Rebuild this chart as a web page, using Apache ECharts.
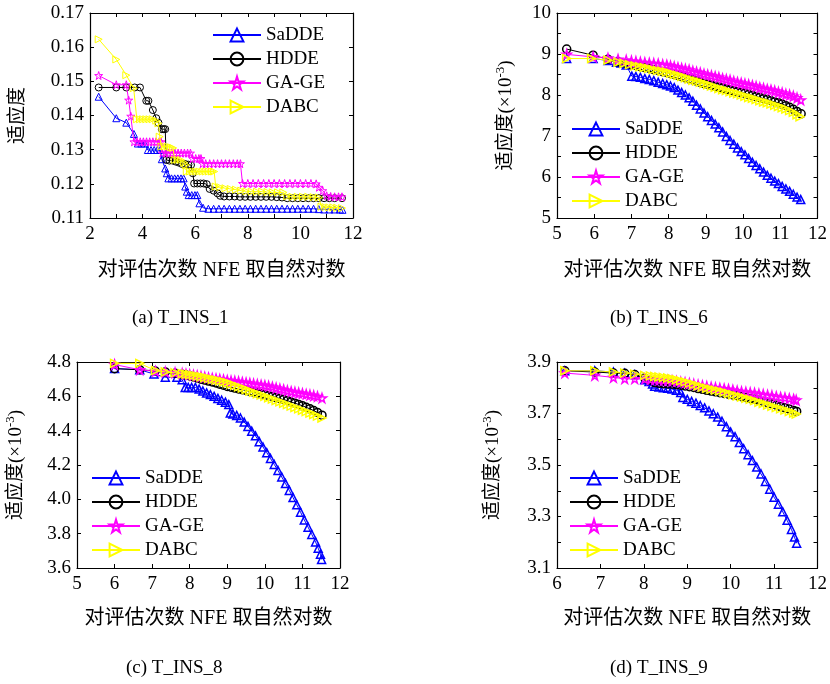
<!DOCTYPE html>
<html>
<head>
<meta charset="utf-8">
<script src="https://cdn.jsdelivr.net/npm/echarts@6/dist/echarts.min.js"></script>
<style>
  html, body { margin: 0; padding: 0; background: #fff; }
  #main { width: 830px; height: 684px; }
</style>
</head>
<body>
<div id="main"></div>
<script>
// series names (legend order)
const names = ['SaDDE', 'HDDE', 'GA-GE', 'DABC'];
const colors = ['#0000ff', '#000000', '#ff00ff', '#ffff00'];

// (a) T_INS_1 : [ln NFE, fitness]
const a_SaDDE = [[2.33,0.1455],[3.0,0.1392],[3.38,0.1379],[3.67,0.1346],[3.82,0.1318],[3.95,0.1318],[4.08,0.1318],[4.2,0.1299],[4.32,0.1299],[4.44,0.1299],[4.56,0.1299],[4.67,0.1299],[4.73,0.1272],[4.86,0.1245],[4.92,0.1231],[4.98,0.1216],[5.1,0.1216],[5.22,0.1216],[5.34,0.1216],[5.46,0.1216],[5.56,0.1216],[5.62,0.1192],[5.68,0.1177],[5.75,0.1167],[5.87,0.1167],[5.99,0.1167],[6.08,0.1167],[6.16,0.1143],[6.3,0.1130],[6.5,0.1127],[6.7,0.1127],[6.9,0.1127],[7.1,0.1127],[7.3,0.1127],[7.5,0.1127],[7.7,0.1127],[7.9,0.1127],[8.1,0.1127],[8.3,0.1127],[8.5,0.1127],[8.7,0.1127],[8.9,0.1127],[9.1,0.1127],[9.3,0.1127],[9.5,0.1127],[9.7,0.1127],[9.9,0.1127],[10.1,0.1127],[10.3,0.1127],[10.5,0.1127],[10.7,0.1126],[10.9,0.1125],[11.1,0.1125],[11.3,0.1125],[11.5,0.1125],[11.6,0.1124]];
const a_HDDE = [[2.33,0.1482],[3.0,0.1482],[3.38,0.1482],[3.7,0.1482],[3.9,0.1482],[4.14,0.1443],[4.22,0.1443],[4.39,0.1416],[4.52,0.1392],[4.6,0.1379],[4.73,0.136],[4.8,0.136],[4.86,0.136],[4.9,0.127],[5.02,0.1268],[5.14,0.1268],[5.26,0.1265],[5.38,0.1262],[5.5,0.1258],[5.62,0.1258],[5.74,0.1256],[5.84,0.1255],[5.91,0.1231],[5.96,0.1201],[6.08,0.1201],[6.2,0.1201],[6.32,0.1201],[6.44,0.1199],[6.55,0.1185],[6.7,0.118],[6.85,0.1172],[6.95,0.1165],[7.1,0.1163],[7.3,0.1163],[7.5,0.1163],[7.7,0.1162],[7.9,0.1162],[8.1,0.1162],[8.3,0.1162],[8.5,0.1162],[8.7,0.1162],[8.9,0.1162],[9.1,0.1161],[9.3,0.1160],[9.5,0.1158],[9.7,0.1158],[9.9,0.1158],[10.1,0.1158],[10.3,0.1158],[10.5,0.1158],[10.7,0.1158],[10.9,0.1158],[11.1,0.1158],[11.3,0.1158],[11.58,0.1158]];
const a_GAGE = [[2.33,0.1517],[3.0,0.149],[3.38,0.149],[3.47,0.1445],[3.55,0.1398],[3.67,0.1323],[3.79,0.1323],[3.91,0.1323],[4.03,0.1323],[4.15,0.1323],[4.27,0.1323],[4.39,0.1323],[4.51,0.1323],[4.63,0.1323],[4.7,0.1323],[4.75,0.129],[4.87,0.129],[4.99,0.129],[5.11,0.129],[5.23,0.129],[5.35,0.129],[5.47,0.129],[5.59,0.129],[5.71,0.129],[5.82,0.129],[5.9,0.1274],[6.02,0.1274],[6.14,0.1274],[6.22,0.1274],[6.28,0.1259],[6.4,0.1259],[6.55,0.1259],[6.7,0.1259],[6.85,0.1259],[7.0,0.1259],[7.15,0.1259],[7.3,0.1259],[7.45,0.1259],[7.6,0.1259],[7.72,0.1259],[7.8,0.1201],[8.0,0.1201],[8.2,0.1201],[8.4,0.1201],[8.6,0.1201],[8.8,0.1201],[9.0,0.1201],[9.2,0.1201],[9.4,0.1201],[9.6,0.1201],[9.8,0.1201],[10.0,0.1201],[10.2,0.1201],[10.4,0.1201],[10.6,0.1200],[10.7,0.119],[10.85,0.118],[11.0,0.1165],[11.15,0.1163],[11.3,0.1162],[11.45,0.1162],[11.58,0.1162]];
const a_DABC = [[2.33,0.1623],[3.0,0.1564],[3.38,0.1518],[3.66,0.148],[3.78,0.1389],[3.9,0.1389],[4.02,0.1389],[4.14,0.1389],[4.26,0.1389],[4.38,0.1389],[4.52,0.1385],[4.6,0.1377],[4.65,0.1338],[4.72,0.1309],[4.84,0.1309],[4.96,0.1309],[5.08,0.1307],[5.16,0.1305],[5.22,0.127],[5.34,0.127],[5.46,0.127],[5.58,0.1262],[5.64,0.1255],[5.68,0.1236],[5.8,0.1236],[5.92,0.1236],[6.04,0.1236],[6.16,0.1236],[6.28,0.1236],[6.4,0.1236],[6.52,0.1236],[6.64,0.1236],[6.72,0.1236],[6.78,0.1192],[6.95,0.119],[7.15,0.1187],[7.35,0.1185],[7.55,0.1183],[7.75,0.118],[7.95,0.1178],[8.15,0.1177],[8.35,0.1177],[8.55,0.1177],[8.75,0.1176],[8.95,0.1175],[9.15,0.1175],[9.35,0.1175],[9.5,0.1163],[9.7,0.1162],[9.9,0.1162],[10.1,0.1162],[10.3,0.1162],[10.5,0.1161],[10.7,0.116],[10.8,0.1133],[10.95,0.1132],[11.1,0.1131],[11.25,0.1131],[11.4,0.113],[11.58,0.1129]];

// (b) T_INS_6 : fitness x 1e-3
const b_SaDDE = [[5.26,8.89],[5.97,8.89],[6.37,8.84],[6.6,8.8],[6.72,8.78],[6.86,8.73],[7.01,8.46],[7.12,8.45],[7.24,8.43],[7.36,8.4],[7.48,8.38],[7.6,8.35],[7.72,8.31],[7.84,8.28],[7.95,8.25],[8.05,8.22],[8.15,8.18],[8.25,8.12],[8.35,8.06],[8.45,8.0],[8.55,7.93],[8.65,7.85],[8.75,7.75],[8.85,7.66],[8.95,7.56],[9.05,7.47],[9.15,7.38],[9.25,7.29],[9.35,7.2],[9.45,7.1],[9.55,6.99],[9.65,6.89],[9.75,6.8],[9.85,6.71],[9.95,6.62],[10.05,6.54],[10.15,6.45],[10.25,6.36],[10.35,6.28],[10.45,6.2],[10.55,6.12],[10.65,6.04],[10.75,5.97],[10.85,5.9],[10.95,5.84],[11.05,5.77],[11.15,5.71],[11.25,5.65],[11.35,5.58],[11.45,5.51],[11.55,5.45]];
const b_HDDE = [[5.26,9.12],[5.97,8.97],[6.37,8.87],[6.64,8.81],[6.85,8.77],[7.0,8.74],[7.12,8.72],[7.24,8.69],[7.36,8.67],[7.48,8.65],[7.6,8.62],[7.72,8.6],[7.84,8.57],[7.95,8.55],[8.05,8.53],[8.15,8.5],[8.25,8.48],[8.35,8.45],[8.45,8.42],[8.55,8.39],[8.65,8.37],[8.75,8.34],[8.85,8.31],[8.95,8.28],[9.05,8.26],[9.15,8.24],[9.25,8.21],[9.35,8.19],[9.45,8.17],[9.55,8.14],[9.65,8.12],[9.75,8.1],[9.85,8.08],[9.95,8.06],[10.05,8.04],[10.15,8.01],[10.25,7.99],[10.35,7.96],[10.45,7.94],[10.55,7.91],[10.65,7.89],[10.75,7.86],[10.85,7.83],[10.95,7.81],[11.05,7.78],[11.15,7.74],[11.25,7.7],[11.35,7.65],[11.45,7.6],[11.56,7.54]];
const b_GAGE = [[5.26,8.99],[5.97,8.93],[6.37,8.9],[6.64,8.87],[6.86,8.85],[7.0,8.83],[7.12,8.82],[7.24,8.8],[7.36,8.79],[7.48,8.78],[7.6,8.77],[7.72,8.76],[7.84,8.74],[7.95,8.73],[8.05,8.71],[8.15,8.69],[8.25,8.67],[8.35,8.65],[8.45,8.63],[8.55,8.61],[8.65,8.58],[8.75,8.56],[8.85,8.54],[8.95,8.51],[9.05,8.49],[9.15,8.47],[9.25,8.45],[9.35,8.43],[9.45,8.4],[9.55,8.38],[9.65,8.36],[9.75,8.33],[9.85,8.31],[9.95,8.29],[10.05,8.27],[10.15,8.25],[10.25,8.23],[10.35,8.21],[10.45,8.18],[10.55,8.16],[10.65,8.14],[10.75,8.12],[10.85,8.1],[10.95,8.07],[11.05,8.05],[11.15,8.02],[11.25,8.0],[11.35,7.97],[11.45,7.93],[11.55,7.88]];
const b_DABC = [[5.26,8.89],[5.93,8.89],[6.37,8.85],[6.64,8.8],[6.8,8.77],[6.95,8.74],[7.1,8.71],[7.22,8.69],[7.34,8.67],[7.46,8.65],[7.58,8.62],[7.7,8.6],[7.82,8.58],[7.94,8.56],[8.05,8.53],[8.15,8.5],[8.25,8.48],[8.35,8.45],[8.45,8.42],[8.55,8.39],[8.65,8.36],[8.75,8.34],[8.85,8.31],[8.95,8.28],[9.05,8.25],[9.15,8.22],[9.25,8.19],[9.35,8.16],[9.45,8.13],[9.55,8.11],[9.65,8.08],[9.75,8.05],[9.85,8.03],[9.95,8.0],[10.05,7.97],[10.15,7.94],[10.25,7.92],[10.35,7.89],[10.45,7.86],[10.55,7.83],[10.65,7.81],[10.75,7.78],[10.85,7.75],[10.95,7.72],[11.05,7.69],[11.15,7.66],[11.25,7.62],[11.35,7.58],[11.45,7.52],[11.53,7.47]];

// (c) T_INS_8 : fitness x 1e-3
const c_SaDDE = [[6.0,4.762],[6.67,4.755],[7.05,4.73],[7.35,4.711],[7.66,4.711],[7.8,4.697],[7.88,4.652],[7.96,4.652],[8.05,4.652],[8.15,4.652],[8.25,4.642],[8.35,4.631],[8.45,4.62],[8.55,4.61],[8.65,4.6],[8.75,4.588],[8.85,4.577],[8.95,4.566],[9.04,4.552],[9.08,4.503],[9.15,4.497],[9.25,4.489],[9.35,4.474],[9.45,4.45],[9.55,4.425],[9.65,4.397],[9.75,4.37],[9.85,4.336],[9.95,4.305],[10.05,4.272],[10.15,4.238],[10.25,4.203],[10.35,4.168],[10.45,4.13],[10.55,4.092],[10.65,4.052],[10.75,4.01],[10.85,3.968],[10.95,3.925],[11.05,3.88],[11.15,3.838],[11.25,3.795],[11.35,3.752],[11.42,3.715],[11.48,3.68],[11.51,3.65]];
const c_HDDE = [[6.0,4.761],[6.67,4.755],[7.08,4.748],[7.35,4.742],[7.61,4.735],[7.8,4.728],[7.9,4.724],[8.0,4.719],[8.1,4.713],[8.2,4.707],[8.3,4.7],[8.4,4.695],[8.5,4.689],[8.6,4.684],[8.7,4.678],[8.8,4.671],[8.9,4.665],[9.0,4.658],[9.1,4.653],[9.2,4.648],[9.3,4.643],[9.4,4.639],[9.5,4.634],[9.6,4.629],[9.7,4.625],[9.8,4.62],[9.9,4.615],[10.0,4.61],[10.1,4.604],[10.2,4.599],[10.3,4.593],[10.4,4.587],[10.5,4.581],[10.6,4.575],[10.7,4.567],[10.8,4.56],[10.9,4.553],[11.0,4.545],[11.1,4.536],[11.2,4.527],[11.3,4.517],[11.4,4.506],[11.52,4.49]];
const c_GAGE = [[6.0,4.785],[6.67,4.755],[7.09,4.746],[7.35,4.742],[7.61,4.738],[7.8,4.733],[7.9,4.73],[8.0,4.727],[8.1,4.723],[8.2,4.72],[8.3,4.716],[8.4,4.712],[8.5,4.708],[8.6,4.705],[8.7,4.702],[8.8,4.699],[8.9,4.696],[9.0,4.693],[9.1,4.69],[9.2,4.688],[9.3,4.685],[9.4,4.682],[9.5,4.679],[9.6,4.676],[9.7,4.672],[9.8,4.669],[9.9,4.666],[10.0,4.663],[10.1,4.659],[10.2,4.654],[10.3,4.649],[10.4,4.643],[10.5,4.638],[10.6,4.633],[10.7,4.628],[10.8,4.624],[10.9,4.62],[11.0,4.616],[11.1,4.612],[11.2,4.608],[11.3,4.604],[11.4,4.599],[11.52,4.59]];
const c_DABC = [[6.0,4.792],[6.67,4.792],[7.09,4.75],[7.35,4.742],[7.61,4.737],[7.8,4.732],[7.9,4.729],[8.0,4.726],[8.1,4.722],[8.2,4.718],[8.3,4.714],[8.4,4.71],[8.5,4.705],[8.6,4.7],[8.7,4.695],[8.8,4.69],[8.9,4.685],[9.0,4.679],[9.1,4.672],[9.2,4.664],[9.3,4.656],[9.4,4.648],[9.5,4.64],[9.6,4.631],[9.7,4.623],[9.8,4.615],[9.9,4.607],[10.0,4.6],[10.1,4.592],[10.2,4.584],[10.3,4.576],[10.4,4.568],[10.5,4.56],[10.6,4.552],[10.7,4.543],[10.8,4.535],[10.9,4.527],[11.0,4.519],[11.1,4.511],[11.2,4.502],[11.3,4.494],[11.4,4.485],[11.52,4.474]];

// (d) T_INS_9 : fitness x 1e-3
const d_SaDDE = [[6.18,3.866],[6.87,3.866],[7.3,3.861],[7.56,3.857],[7.79,3.851],[8.02,3.831],[8.12,3.824],[8.2,3.815],[8.25,3.806],[8.35,3.803],[8.45,3.8],[8.55,3.798],[8.65,3.795],[8.75,3.79],[8.85,3.782],[8.9,3.762],[9.0,3.755],[9.1,3.747],[9.2,3.74],[9.3,3.731],[9.4,3.722],[9.5,3.71],[9.6,3.699],[9.7,3.686],[9.8,3.67],[9.9,3.649],[10.0,3.628],[10.1,3.61],[10.2,3.587],[10.3,3.563],[10.4,3.54],[10.5,3.517],[10.6,3.492],[10.7,3.465],[10.8,3.436],[10.9,3.406],[11.0,3.375],[11.1,3.348],[11.2,3.318],[11.3,3.285],[11.4,3.25],[11.47,3.22],[11.52,3.196]];
const d_HDDE = [[6.18,3.866],[6.87,3.861],[7.3,3.857],[7.56,3.856],[7.79,3.851],[8.02,3.838],[8.12,3.83],[8.25,3.82],[8.35,3.817],[8.45,3.816],[8.55,3.815],[8.65,3.814],[8.75,3.812],[8.85,3.81],[8.95,3.807],[9.05,3.804],[9.15,3.801],[9.25,3.797],[9.35,3.794],[9.45,3.79],[9.55,3.787],[9.65,3.784],[9.75,3.781],[9.85,3.778],[9.95,3.775],[10.05,3.772],[10.15,3.769],[10.25,3.765],[10.35,3.762],[10.45,3.758],[10.55,3.755],[10.65,3.751],[10.75,3.747],[10.85,3.742],[10.95,3.737],[11.05,3.732],[11.15,3.727],[11.25,3.722],[11.35,3.717],[11.45,3.712],[11.52,3.708]];
const d_GAGE = [[6.18,3.857],[6.87,3.848],[7.3,3.84],[7.56,3.835],[7.79,3.835],[8.02,3.834],[8.15,3.832],[8.25,3.831],[8.35,3.83],[8.45,3.829],[8.55,3.828],[8.65,3.827],[8.75,3.825],[8.85,3.822],[8.95,3.82],[9.05,3.817],[9.15,3.814],[9.25,3.811],[9.35,3.808],[9.45,3.805],[9.55,3.802],[9.65,3.8],[9.75,3.798],[9.85,3.796],[9.95,3.794],[10.05,3.791],[10.15,3.788],[10.25,3.785],[10.35,3.783],[10.45,3.781],[10.55,3.779],[10.65,3.776],[10.75,3.774],[10.85,3.771],[10.95,3.769],[11.05,3.766],[11.15,3.763],[11.25,3.761],[11.35,3.758],[11.45,3.755],[11.51,3.752]];
const d_DABC = [[6.18,3.866],[6.87,3.866],[7.3,3.861],[7.56,3.857],[7.79,3.853],[8.02,3.848],[8.15,3.846],[8.25,3.844],[8.35,3.842],[8.45,3.84],[8.55,3.838],[8.65,3.835],[8.75,3.831],[8.85,3.827],[8.95,3.823],[9.05,3.818],[9.15,3.813],[9.25,3.808],[9.35,3.803],[9.45,3.798],[9.55,3.794],[9.65,3.791],[9.75,3.787],[9.85,3.783],[9.95,3.778],[10.05,3.773],[10.15,3.768],[10.25,3.764],[10.35,3.759],[10.45,3.755],[10.55,3.75],[10.65,3.744],[10.75,3.739],[10.85,3.733],[10.95,3.728],[11.05,3.723],[11.15,3.718],[11.25,3.713],[11.35,3.708],[11.45,3.702],[11.51,3.698]];

const xName = '对评估次数 NFE 取自然对数';
const captions = ['(a) T_INS_1', '(b) T_INS_6', '(c) T_INS_8', '(d) T_INS_9'];

const FONT = "'Liberation Serif', 'Noto Sans CJK SC', serif";
const STAR = 'path://M50,0 L61,35 L98,35 L68,57 L79,91 L50,70 L21,91 L32,57 L2,35 L39,35 Z';
const RTRI = 'path://M0,0 L10,5 L0,10 Z';
const symbols = ['triangle', 'circle', STAR, RTRI];

const isInt = v => Math.abs(v - Math.round(v)) < 1e-6;
const panels = [
  {
    grid: { left: 90, top: 13, width: 263, height: 205 },
    x: { min: 2, max: 12, interval: 1, fmt: v => (Math.round(v) % 2 === 0 ? String(Math.round(v)) : '') },
    y: { min: 0.11, max: 0.17, interval: 0.01, fmt: v => v.toFixed(2) },
    yName: '适应度', yGap: 62, xGap: 43, mark: 7,
    data: [a_SaDDE, a_HDDE, a_GAGE, a_DABC],
    legend: { left: 212, top: 25 },
    cap: [184, 320]
  },
  {
    grid: { left: 557, top: 13, width: 262, height: 205 },
    x: { min: 5, max: 12, interval: 1, fmt: v => String(Math.round(v)) },
    y: { min: 5, max: 10, interval: 0.5, fmt: v => (isInt(v) ? String(Math.round(v)) : '') },
    yName: '适应度(×10{sup|-3})', yGap: 38, xGap: 43, mark: 8,
    data: [b_SaDDE, b_HDDE, b_GAGE, b_DABC],
    legend: { left: 571, top: 119 },
    cap: [662, 320]
  },
  {
    grid: { left: 77, top: 362, width: 263, height: 206 },
    x: { min: 5, max: 12, interval: 1, fmt: v => String(Math.round(v)) },
    y: { min: 3.6, max: 4.8, interval: 0.2, fmt: v => v.toFixed(1) },
    yName: '适应度(×10{sup|-3})', yGap: 48, xGap: 41, mark: 8,
    data: [c_SaDDE, c_HDDE, c_GAGE, c_DABC],
    legend: { left: 91, top: 468 },
    cap: [178, 670]
  },
  {
    grid: { left: 557, top: 362, width: 261, height: 206 },
    x: { min: 6, max: 12, interval: 1, fmt: v => String(Math.round(v)) },
    y: { min: 3.1, max: 3.9, interval: 0.1, fmt: v => (Math.round(v * 10) % 2 === 1 ? v.toFixed(1) : '') },
    yName: '适应度(×10{sup|-3})', yGap: 51, xGap: 41, mark: 8,
    data: [d_SaDDE, d_HDDE, d_GAGE, d_DABC],
    legend: { left: 569, top: 468 },
    cap: [662, 670]
  }
];

const tickStyle = { show: true, inside: true, length: 4, lineStyle: { color: '#000', width: 1 } };
const lineStyle = { show: true, lineStyle: { color: '#000', width: 1.2 } };
const labelStyle = { color: '#000', fontFamily: FONT, fontSize: 19 };

const grids = [], xAxes = [], yAxes = [], series = [], legends = [], graphics = [];
panels.forEach((p, i) => {
  grids.push(Object.assign({ containLabel: false }, p.grid));
  // bottom + mirrored top
  xAxes.push({
    type: 'value', gridIndex: i, position: 'bottom', min: p.x.min, max: p.x.max, interval: p.x.interval,
    axisLine: lineStyle, axisTick: tickStyle, splitLine: { show: false },
    axisLabel: Object.assign({ margin: 7, formatter: p.x.fmt, showMinLabel: true, showMaxLabel: true }, labelStyle),
    name: xName, nameLocation: 'middle', nameGap: p.xGap,
    nameTextStyle: { color: '#000', fontFamily: FONT, fontSize: 20 }
  });
  xAxes.push({
    type: 'value', gridIndex: i, position: 'top', min: p.x.min, max: p.x.max, interval: p.x.interval,
    axisLine: lineStyle, axisTick: tickStyle, splitLine: { show: false }, axisLabel: { show: false }
  });
  // left + mirrored right
  yAxes.push({
    type: 'value', gridIndex: i, position: 'left', min: p.y.min, max: p.y.max, interval: p.y.interval,
    axisLine: lineStyle, axisTick: tickStyle, splitLine: { show: false },
    axisLabel: Object.assign({ margin: 6, formatter: p.y.fmt, showMinLabel: true, showMaxLabel: true }, labelStyle),
    name: p.yName, nameLocation: 'middle', nameGap: p.yGap, nameRotate: 90,
    nameTextStyle: {
      color: '#000', fontFamily: FONT, fontSize: 19,
      rich: { sup: { color: '#000', fontFamily: FONT, fontSize: 13, padding: [0, 0, 12, 0] } }
    }
  });
  yAxes.push({
    type: 'value', gridIndex: i, position: 'right', min: p.y.min, max: p.y.max, interval: p.y.interval,
    axisLine: lineStyle, axisTick: tickStyle, splitLine: { show: false }, axisLabel: { show: false }
  });

  p.data.forEach((d, k) => {
    series.push({
      name: names[k], type: 'line', xAxisIndex: i * 2, yAxisIndex: i * 2, data: d,
      symbol: symbols[k], symbolSize: k === 2 ? p.mark + 1 : p.mark, showAllSymbol: true,
      lineStyle: { color: colors[k], width: 1 },
      itemStyle: { color: 'transparent', borderColor: colors[k], borderWidth: i === 0 ? 1 : 1.5 },
      emphasis: { disabled: true }, animation: false, z: 2 + k
    });
  });

  legends.push({
    data: names, orient: 'vertical', left: p.legend.left, top: p.legend.top,
    itemWidth: 48, itemHeight: 16, itemGap: 4, padding: 0, selectedMode: false,
    textStyle: { color: '#000', fontFamily: FONT, fontSize: 19, lineHeight: 20 }
  });

  graphics.push({
    type: 'text', left: p.cap[0] - 52, top: p.cap[1] - 11,
    style: { text: captions[i], fill: '#000', font: "19px 'Liberation Serif', serif" }
  });
});

const chart = echarts.init(document.getElementById('main'));
chart.setOption({
  backgroundColor: '#fff',
  animation: false,
  grid: grids,
  xAxis: xAxes,
  yAxis: yAxes,
  legend: legends,
  series: series,
  graphic: graphics
});
</script>
</body>
</html>
